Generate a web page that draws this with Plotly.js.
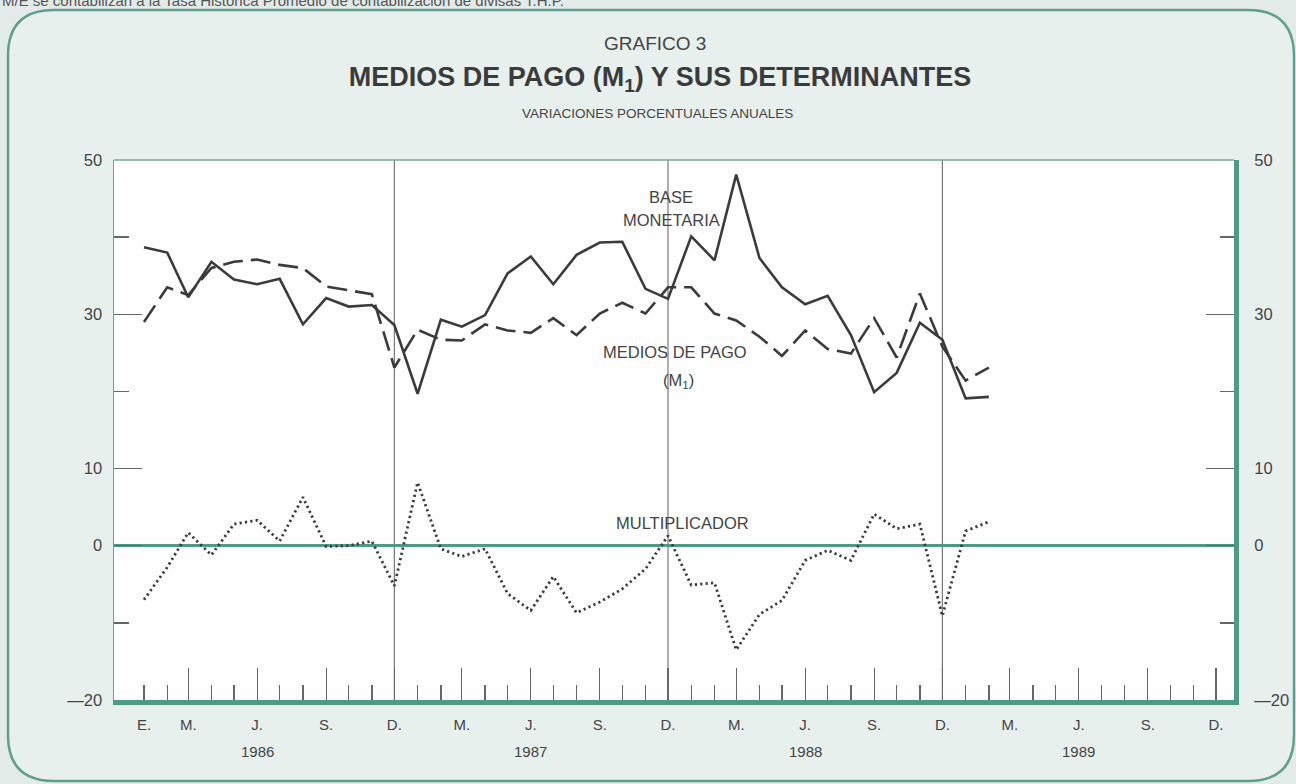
<!DOCTYPE html>
<html>
<head>
<meta charset="utf-8">
<script src="https://cdn.plot.ly/plotly-3.0.1.min.js"></script>
<style>html,body{margin:0;padding:0;background:#e3ebe9;}#chart{width:1296px;height:784px;}</style>
</head>
<body>
<div id="chart"></div>
<script>
// ---- DATA (monthly, Jan 1986 - Feb 1989), annual % changes ----
const months = [
  '1986-01-01','1986-02-01','1986-03-01','1986-04-01','1986-05-01','1986-06-01',
  '1986-07-01','1986-08-01','1986-09-01','1986-10-01','1986-11-01','1986-12-01',
  '1987-01-01','1987-02-01','1987-03-01','1987-04-01','1987-05-01','1987-06-01',
  '1987-07-01','1987-08-01','1987-09-01','1987-10-01','1987-11-01','1987-12-01',
  '1988-01-01','1988-02-01','1988-03-01','1988-04-01','1988-05-01','1988-06-01',
  '1988-07-01','1988-08-01','1988-09-01','1988-10-01','1988-11-01','1988-12-01',
  '1989-01-01','1989-02-01'
];
const baseMonetaria = [
  38.7, 38.0, 32.2, 36.8, 34.5, 33.9, 34.6, 28.7, 32.1, 31.0, 31.2, 28.6,
  19.7, 29.3, 28.4, 29.9, 35.3, 37.5, 33.9, 37.7, 39.3, 39.4, 33.3, 32.0,
  40.1, 37.0, 48.1, 37.3, 33.5, 31.3, 32.4, 27.3, 19.9, 22.4, 28.9, 26.7,
  19.1, 19.3
];
const mediosDePago = [
  29.0, 33.5, 32.5, 36.0, 36.8, 37.1, 36.4, 36.0, 33.6, 33.1, 32.6, 23.1,
  28.0, 26.7, 26.6, 28.7, 27.9, 27.6, 29.5, 27.3, 30.1, 31.5, 30.1, 33.5,
  33.5, 30.1, 29.2, 27.1, 24.6, 27.9, 25.5, 24.9, 29.5, 24.4, 32.7, 25.8,
  21.4, 23.1
];
const multiplicador = [
  -7.0, -2.8, 1.7, -1.2, 2.8, 3.3, 0.6, 6.3, -0.1, 0.0, 0.6, -5.2,
  8.2, -0.4, -1.4, -0.4, -6.2, -8.4, -4.0, -8.7, -7.3, -5.6, -3.0, 1.3,
  -5.1, -4.8, -13.5, -8.9, -7.1, -1.9, -0.6, -1.9, 4.1, 2.2, 2.8, -9.1,
  1.9, 3.1
];
const years = ['1986','1987','1988','1989'];
const monthLetters = ['E.','M.','J.','S.','D.'];
const yTickVals = [50, 30, 10, 0, -20];
const yTickText = ['50','30','10','0','\u201420'];
const yMinorVals = [40, 20, -10];

// ---- helpers for axis ticks (not data) ----
const labelVals = [], labelText = [], quarterVals = [], monthVals = [], decVals = [];
years.forEach((y, i) => {
  if (i === 0) { labelVals.push(y + '-01-01'); labelText.push(monthLetters[0]); }
  ['03','06','09','12'].forEach((m, j) => {
    labelVals.push(y + '-' + m + '-01'); labelText.push(monthLetters[j + 1]);
    quarterVals.push(y + '-' + m + '-01');
  });
  for (let m = 1; m <= 12; m++) monthVals.push(y + '-' + String(m).padStart(2, '0') + '-01');
  if (i < years.length - 1) decVals.push(y + '-12-01');
});

const INK = '#3b3b3b';
const TEAL = '#4f9a85';
const FONT = 'Liberation Sans, Arial, sans-serif';

// pixel -> paper helpers for decorative frame
const L = 114, R = 1234, T = 160, B = 700;
const px = x => (x - L) / (R - L);
const py = y => (B - y) / (B - T);

function roundedRect(x0, y0, x1, y1, r) {
  const P = (x, y) => px(x).toFixed(5) + ',' + py(y).toFixed(5);
  return 'M' + P(x0 + r, y0) + ' L' + P(x1 - r, y0) + ' Q' + P(x1, y0) + ' ' + P(x1, y0 + r) +
    ' L' + P(x1, y1 - r) + ' Q' + P(x1, y1) + ' ' + P(x1 - r, y1) +
    ' L' + P(x0 + r, y1) + ' Q' + P(x0, y1) + ' ' + P(x0, y1 - r) +
    ' L' + P(x0, y0 + r) + ' Q' + P(x0, y0) + ' ' + P(x0 + r, y0) + ' Z';
}

const traces = [
  { x: months, y: baseMonetaria, type: 'scatter', mode: 'lines', name: 'Base monetaria',
    line: { color: INK, width: 2.6 }, xaxis: 'x', yaxis: 'y' },
  { x: months, y: mediosDePago, type: 'scatter', mode: 'lines', name: 'Medios de pago (M1)',
    line: { color: INK, width: 2.6, dash: '20px,8px' }, xaxis: 'x', yaxis: 'y2' },
  { x: months, y: multiplicador, type: 'scatter', mode: 'lines', name: 'Multiplicador',
    line: { color: INK, width: 2.8, dash: '2.2px,3.2px' }, xaxis: 'x2', yaxis: 'y' }
];

const xRange = ['1985-11-22', '1989-12-25'];
const axFont = { family: FONT, size: 15, color: '#444' };
const yFont = { family: FONT, size: 16.5, color: '#444' };
const lblFont = { family: FONT, size: 16.5, color: '#444' };

const layout = {
  width: 1296, height: 784,
  margin: { l: L, r: 1296 - R, t: T, b: 784 - B, pad: 0 },
  paper_bgcolor: '#e3ebe9',
  plot_bgcolor: 'rgba(0,0,0,0)',
  showlegend: false,
  font: { family: FONT, color: INK },
  title: { text: '<b>MEDIOS DE PAGO (M<sub>1</sub>) Y SUS DETERMINANTES</b>',
    x: 660 / 1296, xanchor: 'center', xref: 'container',
    y: 1 - 77 / 784, yanchor: 'middle', yref: 'container',
    font: { family: FONT, size: 27, color: INK } },
  xaxis: {
    type: 'date', range: xRange, showgrid: false, zeroline: false,
    showline: true, linecolor: TEAL, linewidth: 5,
    tickmode: 'array', tickvals: labelVals, ticktext: labelText,
    ticks: '', ticklabelstandoff: 7, tickfont: axFont
  },
  xaxis2: {
    type: 'date', overlaying: 'x', matches: 'x', range: xRange, showgrid: false, zeroline: false,
    showline: false, showticklabels: false,
    tickmode: 'array', tickvals: quarterVals, ticks: 'inside', ticklen: 32, tickwidth: 1.3, tickcolor: '#666',
    minor: { tickmode: 'array', tickvals: monthVals, ticks: 'inside', ticklen: 15, tickwidth: 1.3, tickcolor: '#666' }
  },
  yaxis: {
    range: [-20, 50], showgrid: false,
    zeroline: true, zerolinecolor: TEAL, zerolinewidth: 2.5,
    showline: true, linecolor: '#6f9f92', linewidth: 1.5,
    tickmode: 'array', tickvals: yTickVals, ticktext: yTickText,
    ticks: 'inside', ticklen: 28, tickwidth: 1.3, tickcolor: '#666',
    minor: { tickmode: 'array', tickvals: yMinorVals, ticks: 'inside', ticklen: 15, tickwidth: 1.3, tickcolor: '#666' },
    ticklabelstandoff: 7, tickfont: yFont
  },
  yaxis2: {
    overlaying: 'y', matches: 'y', side: 'right', range: [-20, 50], showgrid: false, zeroline: false,
    showline: true, linecolor: TEAL, linewidth: 5,
    tickmode: 'array', tickvals: yTickVals, ticktext: yTickText,
    ticks: 'inside', ticklen: 28, tickwidth: 1.3, tickcolor: '#666',
    minor: { tickmode: 'array', tickvals: yMinorVals, ticks: 'inside', ticklen: 14, tickwidth: 1.3, tickcolor: '#666' },
    ticklabelstandoff: 12, tickfont: yFont
  },
  shapes: [
    { type: 'path', xref: 'paper', yref: 'paper', layer: 'below', path: roundedRect(8, 10, 1294, 781, 46),
      fillcolor: '#e8f0ee', line: { color: '#5e9f8d', width: 2.5 } },
    { type: 'rect', xref: 'paper', yref: 'paper', layer: 'below', x0: 0, x1: 1, y0: 0, y1: 1,
      fillcolor: '#fdfefd', line: { width: 0 } },
    { type: 'line', xref: 'paper', yref: 'paper', x0: 0, x1: 1, y0: 1, y1: 1,
      line: { color: '#7aa89b', width: 1.5 } }
  ].concat(decVals.map(d => ({
    type: 'line', xref: 'x', yref: 'paper', layer: 'below', x0: d, x1: d, y0: 0, y1: 1,
    line: { color: '#777', width: 1.2 }
  }))),
  annotations: [
    { text: 'M/E se contabilizan a la Tasa Histórica Promedio de contabilización de divisas T.H.P.',
      xref: 'paper', yref: 'paper', x: px(0), y: py(1), xanchor: 'left', yanchor: 'middle',
      showarrow: false, font: { family: FONT, size: 15, color: '#555' } },
    { text: 'GRAFICO 3', xref: 'paper', yref: 'paper', x: px(655), y: py(43),
      xanchor: 'center', yanchor: 'middle', showarrow: false, font: { family: FONT, size: 19, color: '#444' } },
    { text: 'VARIACIONES PORCENTUALES ANUALES', xref: 'paper', yref: 'paper', x: px(657), y: py(113),
      xanchor: 'center', yanchor: 'middle', showarrow: false, font: { family: FONT, size: 13.5, color: '#444' } },
    { text: 'BASE', xref: 'x', yref: 'y', x: '1987-12-05', y: 45.2, showarrow: false, font: lblFont },
    { text: 'MONETARIA', xref: 'x', yref: 'y', x: '1987-12-05', y: 42.2, showarrow: false, font: lblFont },
    { text: 'MEDIOS DE PAGO', xref: 'x', yref: 'y', x: '1987-12-10', y: 25.1, showarrow: false, font: lblFont },
    { text: '(M<sub>1</sub>)', xref: 'x', yref: 'y', x: '1987-12-15', y: 21.4, showarrow: false, font: lblFont },
    { text: 'MULTIPLICADOR', xref: 'x', yref: 'y', x: '1987-12-20', y: 3.0, showarrow: false, font: lblFont }
  ].concat(years.map(y => ({
    text: y, xref: 'x', yref: 'paper', x: y + '-06-01', y: py(751), xanchor: 'center', yanchor: 'middle',
    showarrow: false, font: { family: FONT, size: 15, color: '#444' }
  })))
};

Plotly.newPlot('chart', traces, layout, { staticPlot: true, displayModeBar: false });
</script>
</body>
</html>
